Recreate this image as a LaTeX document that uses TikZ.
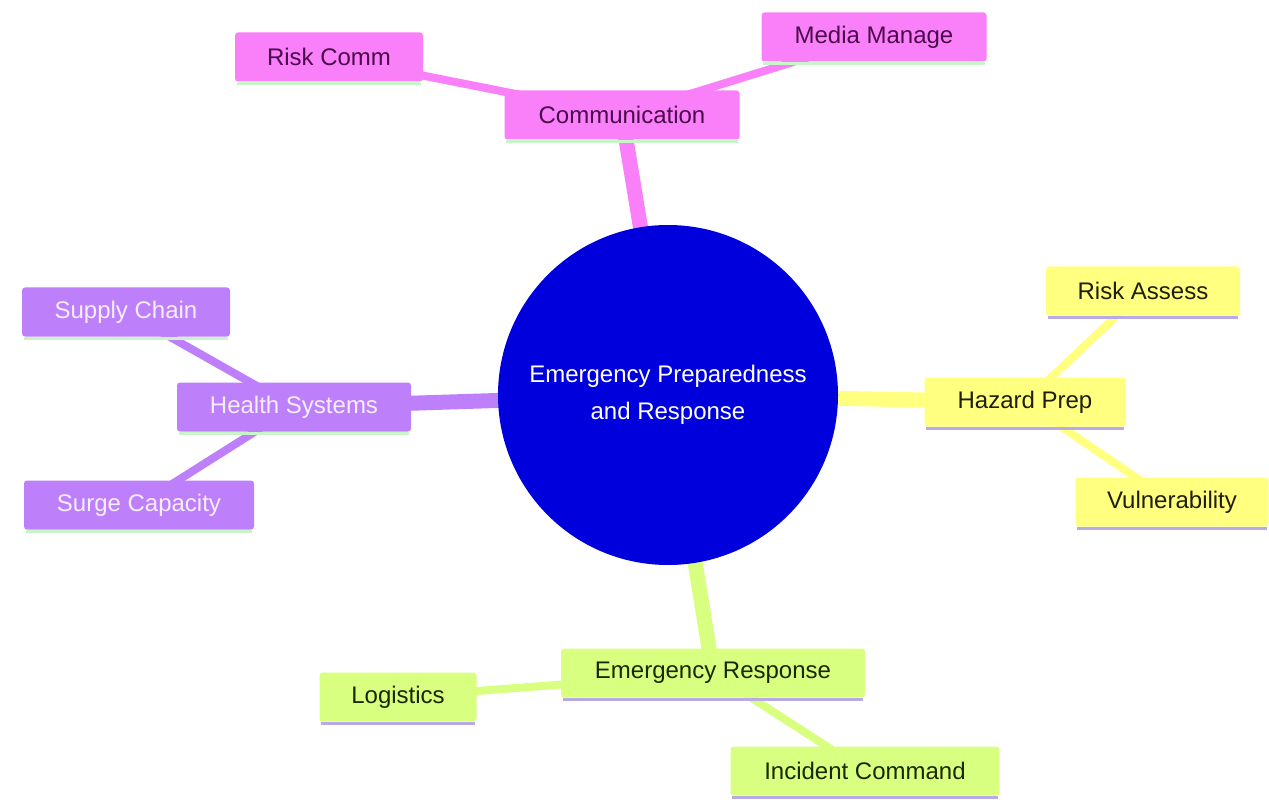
\documentclass[tikz,border=0pt]{standalone}
\usepackage{fontspec}
\setmainfont{Liberation Sans}
\pgfdeclarelayer{bottom}
\pgfdeclarelayer{background}
\pgfsetlayers{bottom,background,main}
\definecolor{pinkf}{RGB}{250,128,250}
\definecolor{pinkt}{RGB}{75,10,75}
\definecolor{purf}{RGB}{190,128,250}
\definecolor{purt}{RGB}{245,238,255}
\definecolor{yelf}{RGB}{255,255,128}
\definecolor{yelt}{RGB}{30,30,10}
\definecolor{grnf}{RGB}{217,255,128}
\definecolor{grnt}{RGB}{25,40,0}
\definecolor{ctrf}{RGB}{0,0,220}
\definecolor{lgreen}{RGB}{200,245,200}
\definecolor{lavender}{RGB}{185,170,230}
\tikzset{
  box/.style={rectangle, rounded corners=3pt, minimum height=49pt, inner sep=0pt,
    font=\fontsize{24}{28}\selectfont},
  pinkbox/.style={box, fill=pinkf, text=pinkt},
  purbox/.style={box, fill=purf, text=purt},
  yelbox/.style={box, fill=yelf, text=yelt},
  grnbox/.style={box, fill=grnf, text=grnt},
  mainedge/.style={line width=15pt},
  subedge/.style={line width=8pt},
}
\begin{document}
\begin{tikzpicture}[x=1pt,y=-1pt]
\begin{pgfonlayer}{bottom}
\useasboundingbox[fill=white] (0,0) rectangle (1269,802);
\end{pgfonlayer}
% center
\node[circle, fill=ctrf, minimum size=340pt, inner sep=0pt, text=white, align=center,
  font=\fontsize{24}{37}\selectfont] (ctr) at (668,395) {Emergency Preparedness\\and Response};
% communication
\node[pinkbox, minimum width=235pt] (comm) at (622,115) {Communication};
\node[pinkbox, minimum width=188pt] (rcomm) at (329,57) {Risk Comm};
\node[pinkbox, minimum width=225pt] (media) at (874,37) {Media Manage};
% hazard
\node[yelbox, minimum width=201pt] (haz) at (1025,402) {Hazard Prep};
\node[yelbox, minimum width=194pt] (rass) at (1143,291) {Risk Assess};
\node[yelbox, minimum width=193pt] (vuln) at (1172,502) {Vulnerability};
% health
\node[purbox, minimum width=234pt] (health) at (294,407) {Health Systems};
\node[purbox, minimum width=208pt] (supply) at (126,312) {Supply Chain};
\node[purbox, minimum width=230pt] (surge) at (139,505) {Surge Capacity};
% emergency response
\node[grnbox, minimum width=304pt] (er) at (713,673) {Emergency Response};
\node[grnbox, minimum width=157pt] (log) at (398,697) {Logistics};
\node[grnbox, minimum width=269pt] (inc) at (865,771) {Incident Command};
% bottom lines
\foreach \n in {comm,rcomm,media,health,supply,surge}
  \draw[lgreen, line width=3pt] ([yshift=-1.5pt,xshift=2pt]\n.south west) -- ([yshift=-1.5pt,xshift=-2pt]\n.south east);
\foreach \n in {haz,rass,vuln,er,log,inc}
  \draw[lavender, line width=3pt] ([yshift=-1.5pt,xshift=2pt]\n.south west) -- ([yshift=-1.5pt,xshift=-2pt]\n.south east);
% edges
\begin{pgfonlayer}{background}
\draw[pinkf, mainedge] (ctr.center) -- (comm.center);
\draw[pinkf, subedge] (comm.center) -- (rcomm.center);
\draw[pinkf, subedge] (comm.center) -- (media.center);
\draw[yelf, mainedge] (ctr.center) -- (haz.center);
\draw[yelf, subedge] (haz.center) -- (rass.center);
\draw[yelf, subedge] (haz.center) -- (vuln.center);
\draw[purf, mainedge] (ctr.center) -- (health.center);
\draw[purf, subedge] (health.center) -- (supply.center);
\draw[purf, subedge] (health.center) -- (surge.center);
\draw[grnf, mainedge] (ctr.center) -- (er.center);
\draw[grnf, subedge] (er.center) -- (log.center);
\draw[grnf, subedge] (er.center) -- (inc.center);
\end{pgfonlayer}
\end{tikzpicture}
\end{document}
